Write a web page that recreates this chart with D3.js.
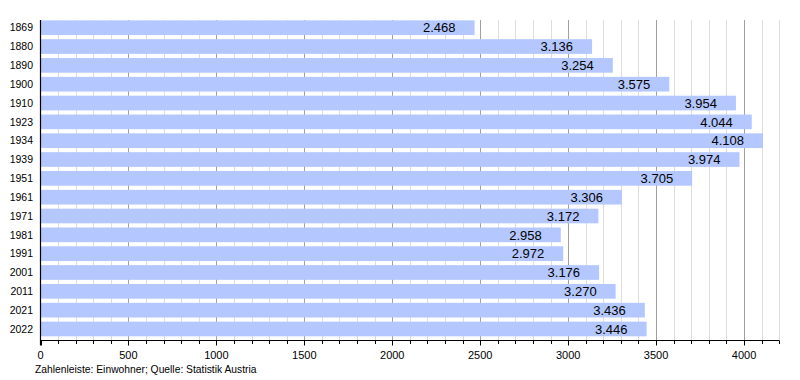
<!DOCTYPE html>
<html><head><meta charset="utf-8">
<script src="https://cdn.jsdelivr.net/npm/d3@7"></script>
<style>body{margin:0;background:#fff;} svg{display:block;font-family:"Liberation Sans",Arial,sans-serif;}</style>
</head><body>
<svg id="chart" width="800" height="380"></svg>
<script>
const years = ["1869","1880","1890","1900","1910","1923","1934","1939","1951","1961","1971","1981","1991","2001","2011","2021","2022"];
const population = [2468,3136,3254,3575,3954,4044,4108,3974,3705,3306,3172,2958,2972,3176,3270,3436,3446];
const xMajorTicks = [0,500,1000,1500,2000,2500,3000,3500,4000];
const footnote = "Zahlenleiste: Einwohner; Quelle: Statistik Austria";

(function(){
const svg = d3.select("#chart");
const x = d3.scaleLinear().domain([0,4200]).range([40.5, 779.2]);
const y = d3.scaleBand().domain(years).range([18.3, 338.4]).paddingInner(0.22).paddingOuter(0.11);
const gTop = 20, axisY = 340.5;
const de = d3.formatLocale({decimal:",", thousands:".", grouping:[3], currency:["","€"]});
const fmt = de.format(",d");

const minor = d3.range(100, 4201, 100).filter(v => v % 500 !== 0);
svg.append("g").selectAll("line").data(minor).join("line")
  .attr("x1", d => Math.round(x(d))+0.5).attr("x2", d => Math.round(x(d))+0.5)
  .attr("y1", gTop).attr("y2", axisY).attr("stroke", "#dddddd").attr("stroke-width", 1);
svg.append("g").selectAll("line").data(xMajorTicks.filter(d => d>0)).join("line")
  .attr("x1", d => Math.round(x(d))+0.5).attr("x2", d => Math.round(x(d))+0.5)
  .attr("y1", gTop).attr("y2", axisY).attr("stroke", "#a0a0a0").attr("stroke-width", 1);

svg.append("g").selectAll("rect").data(years).join("rect")
  .attr("x", x(0)).attr("y", d => y(d))
  .attr("width", (d,i) => x(population[i]) - x(0))
  .attr("height", y.bandwidth())
  .attr("fill", "#b4c8ff");

svg.append("g").selectAll("text").data(years).join("text")
  .attr("x", (d,i) => x(population[i]) - 19)
  .attr("y", d => y(d) + y.bandwidth()/2)
  .attr("dy", "0.36em").attr("text-anchor", "end")
  .attr("font-size", 13).attr("fill", "#000")
  .text((d,i) => fmt(population[i]));

svg.append("g").selectAll("text").data(years).join("text")
  .attr("x", 33).attr("y", d => y(d) + y.bandwidth()/2)
  .attr("dy", "0.36em").attr("text-anchor", "end")
  .attr("font-size", 10.5).attr("fill", "#000")
  .text(d => d);

svg.append("line").attr("x1", x(0)).attr("x2", x(0)).attr("y1", gTop).attr("y2", axisY+5)
  .attr("stroke", "#000").attr("stroke-width", 1.2);
svg.append("line").attr("x1", x(0)).attr("x2", x(4200)).attr("y1", axisY).attr("y2", axisY)
  .attr("stroke", "#000").attr("stroke-width", 1.2);
svg.append("g").selectAll("line").data(d3.range(0,4201,100)).join("line")
  .attr("x1", d => Math.round(x(d))+0.5).attr("x2", d => Math.round(x(d))+0.5)
  .attr("y1", axisY).attr("y2", d => d % 500 === 0 ? axisY+5 : axisY+3.5)
  .attr("stroke", "#000").attr("stroke-width", 1);
svg.append("g").selectAll("text").data(xMajorTicks).join("text")
  .attr("x", d => x(d)).attr("y", 359).attr("text-anchor", "middle")
  .attr("font-size", 11).attr("fill", "#000").text(d => d);

svg.append("text").attr("x", 35).attr("y", 373).attr("font-size", 10.3).attr("fill", "#000").text(footnote);
})();
</script>
</body></html>
